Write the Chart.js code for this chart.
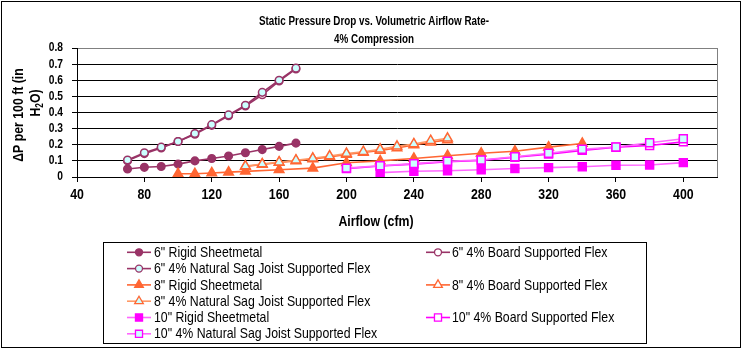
<!DOCTYPE html>
<html><head><meta charset="utf-8">
<script src="https://cdn.jsdelivr.net/npm/chart.js@4.4.0/dist/chart.umd.min.js"></script>
<style>html,body{margin:0;padding:0;background:#fff;}canvas{display:block;}</style>
</head><body>
<canvas id="c" width="746" height="356"></canvas>
<script>
const FONT = '"Liberation Sans",Arial,sans-serif';
const NARROW_SCALE = 0.82; // the reference uses a condensed (Arial Narrow-like) face

// ---- data ----
const xTicks = [40, 80, 120, 160, 200, 240, 280, 320, 360, 400];
const yTicks = [0, 0.1, 0.2, 0.3, 0.4, 0.5, 0.6, 0.7, 0.8];

const x6 = [70, 80, 90, 100, 110, 120, 130, 140, 150, 160, 170];
const y6Rigid = [0.05, 0.06, 0.065, 0.08, 0.10, 0.115, 0.13, 0.15, 0.17, 0.19, 0.21];
const y6Board = [0.10, 0.145, 0.18, 0.22, 0.265, 0.32, 0.38, 0.44, 0.51, 0.595, 0.67];
const y6Sag   = [0.105, 0.15, 0.185, 0.22, 0.27, 0.325, 0.385, 0.445, 0.525, 0.60, 0.675];

const x8Rigid = [100, 110, 120, 130, 140, 160, 180, 200, 220, 240, 260, 280, 300, 320, 340];
const y8Rigid = [0.02, 0.02, 0.025, 0.03, 0.035, 0.045, 0.055, 0.088, 0.10, 0.115, 0.132, 0.147, 0.16, 0.185, 0.208];
const x8Flex  = [140, 150, 160, 170, 180, 190, 200, 210, 220, 230, 240, 250, 260];
const y8Board = [0.065, 0.078, 0.09, 0.10, 0.112, 0.125, 0.14, 0.152, 0.165, 0.18, 0.198, 0.215, 0.23];
const y8Sag   = [0.068, 0.08, 0.092, 0.104, 0.116, 0.13, 0.145, 0.157, 0.172, 0.19, 0.205, 0.225, 0.24];

const x10Rigid = [220, 240, 260, 280, 300, 320, 340, 360, 380, 400];
const y10Rigid = [0.027, 0.036, 0.039, 0.045, 0.053, 0.058, 0.064, 0.073, 0.074, 0.089];
const x10Flex  = [200, 220, 240, 260, 280, 300, 320, 340, 360, 380, 400];
const y10Board = [0.052, 0.068, 0.08, 0.095, 0.103, 0.122, 0.142, 0.165, 0.185, 0.195, 0.218];
const y10Sag   = [0.055, 0.07, 0.083, 0.098, 0.105, 0.126, 0.147, 0.172, 0.186, 0.212, 0.237];

const seriesNames = [
  '6" Rigid Sheetmetal', '6" 4% Board Supported Flex', '6" 4% Natural Sag Joist Supported Flex',
  '8" Rigid Sheetmetal', '8" 4% Board Supported Flex', '8" 4% Natural Sag Joist Supported Flex',
  '10" Rigid Sheetmetal', '10" 4% Board Supported Flex', '10" 4% Natural Sag Joist Supported Flex'
];
const titleLines = ['Static Pressure Drop vs. Volumetric Airflow Rate-', '4% Compression'];
const xTitle = 'Airflow (cfm)';
const yTitleLine1 = '\u0394P per 100 ft (in';

// ---- styles ----
const C6 = '#993366', C8 = '#FF6633', C8L = '#FF9966', C10 = '#FF00FF', C10L = '#FF66FF', CYAN = '#CCFFFF';
function mk(i, xs, ys, line, style, fill, border, r) {
  return {
    label: seriesNames[i],
    data: xs.map((x, k) => ({ x: x, y: ys[k] })),
    showLine: true,
    borderColor: line,
    borderWidth: 1.6,
    pointStyle: style,
    pointRadius: r,
    pointBackgroundColor: fill,
    pointBorderColor: border,
    pointBorderWidth: 1.5,
    order: 100 - i
  };
}
const datasets = [
  mk(0, x6, y6Rigid, C6, 'circle', C6, C6, 3.8),
  mk(1, x6, y6Board, C6, 'circle', '#FFFFFF', C6, 3.8),
  mk(2, x6, y6Sag, C6, 'circle', CYAN, C6, 3.8),
  mk(3, x8Rigid, y8Rigid, C8, 'triangle', C8, C8, 5.5),
  mk(4, x8Flex, y8Board, C8, 'triangle', '#FFFFFF', C8, 5.5),
  mk(5, x8Flex, y8Sag, C8L, 'triangle', CYAN, C8, 5.5),
  mk(6, x10Rigid, y10Rigid, C10L, 'rect', C10, C10, 5.6),
  mk(7, x10Flex, y10Board, C10, 'rect', '#FFFFFF', C10, 5.6),
  mk(8, x10Flex, y10Sag, C10L, 'rect', CYAN, C10, 5.6)
];

const legendSlots = [[0,0],[0,1],[1,0],[2,0],[2,1],[3,0],[4,0],[4,1],[5,0]];

// condensed text: draw every label horizontally squeezed around its anchor
const canvas = document.getElementById('c');
const ctx0 = canvas.getContext('2d');
const origFill = ctx0.fillText.bind(ctx0);
ctx0.fillText = function (t, x, y, mw) {
  this.save();
  this.translate(x, y);
  this.scale(NARROW_SCALE, 1);
  if (mw !== undefined) origFill(t, 0, 0, mw / NARROW_SCALE); else origFill(t, 0, 0);
  this.restore();
};

const decor = {
  id: 'decor',
  beforeDraw(chart) {
    const ctx = chart.ctx;
    ctx.save();
    ctx.fillStyle = '#fff';
    ctx.fillRect(0, 0, chart.width, chart.height);
    ctx.strokeStyle = '#000';
    ctx.lineWidth = 1;
    ctx.strokeRect(1.5, 1.5, 739, 346);
    ctx.restore();
  },
  afterDraw(chart) {
    const ctx = chart.ctx;
    const a = chart.chartArea;
    ctx.save();
    // plot area right border
    ctx.strokeStyle = '#808080';
    ctx.lineWidth = 1;
    ctx.beginPath();
    ctx.moveTo(Math.round(a.right) + 0.5, a.top);
    ctx.lineTo(Math.round(a.right) + 0.5, a.bottom);
    ctx.stroke();

    ctx.fillStyle = '#000';
    ctx.textAlign = 'center';
    ctx.textBaseline = 'middle';
    // chart title
    ctx.font = 'bold 12px ' + FONT;
    ctx.fillText(titleLines[0], 374, 22);
    ctx.fillText(titleLines[1], 374, 40);

    // x axis title
    ctx.font = 'bold 15px ' + FONT;
    ctx.fillText(xTitle, 376, 222);

    // y axis title (rotated, two lines)
    ctx.save();
    ctx.translate(19, 115);
    ctx.rotate(-Math.PI / 2);
    ctx.fillText(yTitleLine1, 0, 0);
    ctx.restore();
    ctx.save();
    ctx.translate(36, 103);
    ctx.rotate(-Math.PI / 2);
    ctx.font = 'bold 15px ' + FONT;
    const wH = ctx.measureText('H').width * NARROW_SCALE, wO = ctx.measureText('O)').width * NARROW_SCALE;
    ctx.font = 'bold 10px ' + FONT;
    const w2 = ctx.measureText('2').width * NARROW_SCALE;
    let px = -(wH + w2 + wO) / 2;
    ctx.textAlign = 'left';
    ctx.font = 'bold 15px ' + FONT;
    ctx.fillText('H', px, 0); px += wH;
    ctx.font = 'bold 10px ' + FONT;
    ctx.fillText('2', px, 4); px += w2;
    ctx.font = 'bold 15px ' + FONT;
    ctx.fillText('O)', px, 0);
    ctx.restore();

    // legend
    ctx.strokeStyle = '#000';
    ctx.lineWidth = 1;
    ctx.strokeRect(103.5, 242.5, 543, 101);
    ctx.font = '15px ' + FONT;
    ctx.textAlign = 'left';
    ctx.textBaseline = 'middle';
    const colLine = [127, 426], colText = [154, 452];
    chart.data.datasets.forEach((ds, i) => {
      const [row, col] = legendSlots[i];
      const y = 252.3 + row * 16.3;
      const x0 = colLine[col];
      ctx.strokeStyle = ds.borderColor;
      ctx.lineWidth = 1.6;
      ctx.beginPath();
      ctx.moveTo(x0, y); ctx.lineTo(x0 + 24, y);
      ctx.stroke();
      ctx.fillStyle = ds.pointBackgroundColor;
      ctx.strokeStyle = ds.pointBorderColor;
      ctx.lineWidth = 1.3;
      const r = ds.pointStyle === 'circle' ? 3.5 : 5;
      Chart.helpers.drawPoint(ctx, { pointStyle: ds.pointStyle, radius: r, borderWidth: 1.3, rotation: 0 }, x0 + 12, y);
      ctx.fillStyle = '#000';
      ctx.fillText(ds.label, colText[col], y + 0.5);
    });
    ctx.restore();
  }
};

new Chart(canvas, {
  type: 'scatter',
  data: { datasets: datasets },
  plugins: [decor],
  options: {
    responsive: false,
    animation: false,
    devicePixelRatio: 1,
    layout: { padding: { left: 0, top: 48, right: 29, bottom: 149 } },
    plugins: {
      legend: { display: false },
      tooltip: { enabled: false },
      title: { display: false }
    },
    scales: {
      x: {
        type: 'linear',
        min: 40, max: 420,
        afterBuildTicks: s => { s.ticks = xTicks.map(v => ({ value: v })); },
        afterFit: s => { s.height = 30; },
        border: { color: '#000', width: 1 },
        grid: { drawOnChartArea: false, drawTicks: true, tickLength: 5, color: '#000', tickColor: '#000' },
        ticks: { color: '#000', font: { family: FONT, size: 15, weight: 'bold' }, padding: 4, maxRotation: 0, autoSkip: false }
      },
      y: {
        min: 0, max: 0.8,
        afterBuildTicks: s => { s.ticks = yTicks.map(v => ({ value: v })); },
        afterFit: s => { s.width = 77; },
        border: { color: '#000', width: 1 },
        grid: {
          drawTicks: true, tickLength: 5, tickColor: '#000',
          color: c => (c.tick && Math.abs(c.tick.value - 0.8) < 1e-9) ? '#808080' : '#000'
        },
        ticks: { color: '#000', font: { family: FONT, size: 12.5, weight: 'bold' }, padding: 9, autoSkip: false }
      }
    }
  }
});
</script>
</body></html>
